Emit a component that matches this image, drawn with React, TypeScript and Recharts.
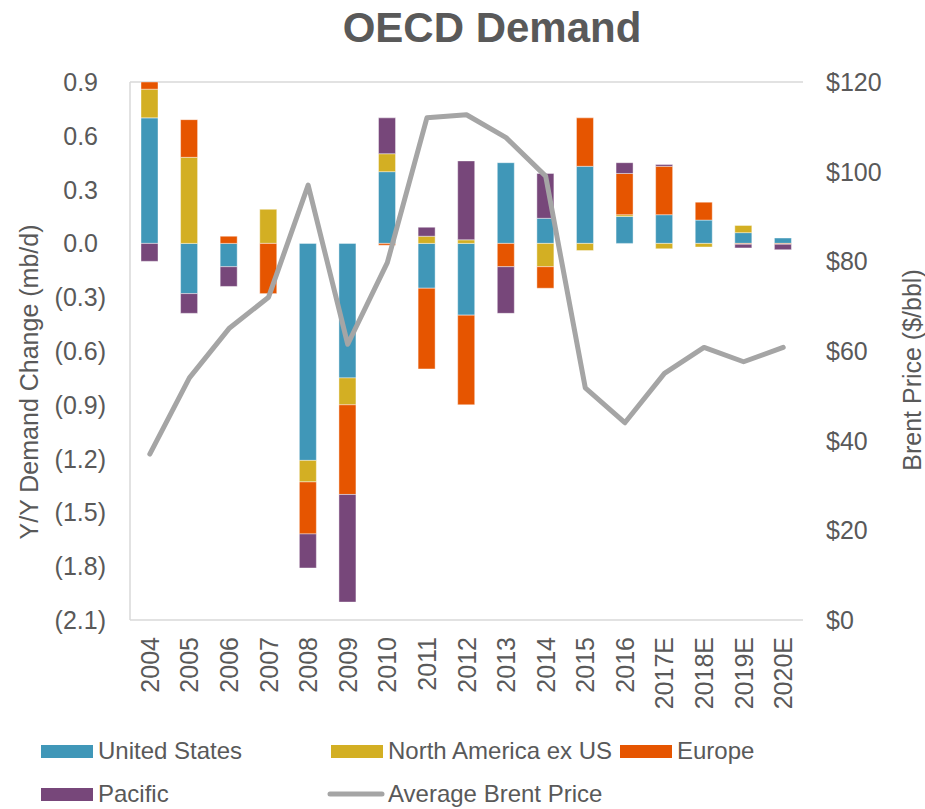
import { ComposedChart, Bar, Line, XAxis, YAxis, CartesianGrid } from 'recharts';

const years = ['2004', '2005', '2006', '2007', '2008', '2009', '2010', '2011', '2012', '2013', '2014', '2015', '2016', '2017E', '2018E', '2019E', '2020E'];
const unitedStates = [0.70, -0.28, -0.13, 0, -1.21, -0.75, 0.40, -0.25, -0.40, 0.45, 0.14, 0.43, 0.15, 0.16, 0.13, 0.06, 0.03];
const northAmericaExUs = [0.16, 0.48, 0, 0.19, -0.12, -0.15, 0.10, 0.04, 0.02, 0, -0.13, -0.04, 0.01, -0.03, -0.02, 0.04, 0];
const europe = [0.04, 0.21, 0.04, -0.28, -0.29, -0.50, -0.01, -0.45, -0.50, -0.13, -0.12, 0.27, 0.23, 0.27, 0.10, -0.005, -0.005];
const pacific = [-0.10, -0.11, -0.11, 0, -0.19, -0.60, 0.20, 0.05, 0.44, -0.26, 0.25, 0, 0.06, 0.01, 0, -0.02, -0.03];
const brentPrice = [37, 54, 65, 72, 97, 61.5, 79.7, 112, 112.7, 107.6, 99, 51.8, 44, 55, 60.8, 57.6, 60.8];

const demandTicks = [-2.1, -1.8, -1.5, -1.2, -0.9, -0.6, -0.3, 0, 0.3, 0.6, 0.9];
const priceTicks = [0, 20, 40, 60, 80, 100, 120];

const TEXT = '#595959';
const FONT = '"Liberation Sans", Arial, sans-serif';

const series = [
  { key: 'us', name: 'United States', color: '#4097B8' },
  { key: 'na', name: 'North America ex US', color: '#D3AF23' },
  { key: 'eu', name: 'Europe', color: '#E65500' },
  { key: 'pac', name: 'Pacific', color: '#77477A' },
];

const data = years.map((year, i) => ({
  year,
  us: unitedStates[i],
  na: northAmericaExUs[i],
  eu: europe[i],
  pac: pacific[i],
  brent: brentPrice[i],
}));

const fmtDemand = (v: number) => {
  const s = Math.abs(v).toFixed(1);
  return v < 0 ? `(${s})` : s;
};

const LeftTick = (props: any) => {
  const { x, y, payload } = props;
  const neg = payload.value < 0;
  return (
    <text x={neg ? x : x - 8} y={y} textAnchor="end" dominantBaseline="central"
      fontSize={25} fill={TEXT} fontFamily={FONT}>
      {fmtDemand(payload.value)}
    </text>
  );
};

const RightTick = (props: any) => {
  const { x, y, payload } = props;
  return (
    <text x={x} y={y} textAnchor="start" dominantBaseline="central"
      fontSize={25} fill={TEXT} fontFamily={FONT}>
      {`$${payload.value}`}
    </text>
  );
};

const YearTick = (props: any) => {
  const { x, y, payload } = props;
  return (
    <text x={x} y={y} transform={`rotate(-90, ${x}, ${y})`} textAnchor="end"
      dominantBaseline="central" fontSize={25} fill={TEXT} fontFamily={FONT}>
      {payload.value}
    </text>
  );
};

export default function App() {
  // legend layout: two rows, three columns like the Excel original
  const legendItems = [
    { ...series[0], col: 0, row: 0, kind: 'bar' },
    { ...series[1], col: 1, row: 0, kind: 'bar' },
    { ...series[2], col: 2, row: 0, kind: 'bar' },
    { ...series[3], col: 0, row: 1, kind: 'bar' },
    { key: 'brent', name: 'Average Brent Price', color: '#A5A5A5', col: 1, row: 1, kind: 'line' },
  ];
  const colX = [41, 331, 620];
  const rowY = [745, 788];

  return (
    <div style={{ position: 'absolute', left: 0, top: 0, width: 925, height: 809, background: '#fff' }}>
      <ComposedChart
        width={925}
        height={720}
        data={data}
        stackOffset="sign"
        margin={{ top: 82, right: 0, bottom: 0, left: 0 }}
      >
        <CartesianGrid vertical={false} stroke="#D9D9D9" strokeWidth={1.5} />
        <XAxis
          dataKey="year"
          height={100}
          interval={0}
          tickLine={false}
          axisLine={false}
          tickSize={0}
          tickMargin={17}
          tick={<YearTick />}
        />
        <YAxis
          yAxisId="left"
          width={130}
          domain={[-2.1, 0.9]}
          ticks={demandTicks}
          interval={0}
          allowDataOverflow
          tickLine={false}
          axisLine={{ stroke: '#D9D9D9', strokeWidth: 1.5 }}
          tickSize={0}
          tickMargin={24}
          tick={<LeftTick />}
        />
        <YAxis
          yAxisId="right"
          orientation="right"
          width={122}
          domain={[0, 120]}
          ticks={priceTicks}
          interval={0}
          tickLine={false}
          axisLine={false}
          tickSize={0}
          tickMargin={23}
          tick={<RightTick />}
        />
        {series.map(s => (
          <Bar
            key={s.key}
            yAxisId="left"
            dataKey={s.key}
            name={s.name}
            stackId="demand"
            fill={s.color}
            stroke="rgba(255,255,255,0.55)"
            strokeWidth={0.75}
            barSize={17}
            isAnimationActive={false}
          />
        ))}
        <Line
          yAxisId="right"
          type="linear"
          dataKey="brent"
          name="Average Brent Price"
          stroke="#A5A5A5"
          strokeWidth={5}
          strokeLinecap="round"
          strokeLinejoin="round"
          dot={false}
          activeDot={false}
          isAnimationActive={false}
        />
      </ComposedChart>

      <svg width={925} height={809} style={{ position: 'absolute', left: 0, top: 0, pointerEvents: 'none' }}>
        <text x={492} y={42} textAnchor="middle" fontSize={42} fontWeight="bold" fill={TEXT} fontFamily={FONT}>
          OECD Demand
        </text>
        <text x={29} y={382} transform="rotate(-90, 29, 382)" textAnchor="middle" dominantBaseline="central"
          fontSize={25} fill={TEXT} fontFamily={FONT}>
          Y/Y Demand Change (mb/d)
        </text>
        <text x={912} y={370} transform="rotate(-90, 912, 370)" textAnchor="middle" dominantBaseline="central"
          fontSize={25} fill={TEXT} fontFamily={FONT}>
          Brent Price ($/bbl)
        </text>
        {legendItems.map(item => {
          const x = colX[item.col];
          const y = rowY[item.row];
          return (
            <g key={item.key}>
              {item.kind === 'bar' ? (
                <rect x={x} y={y} width={52} height={13} fill={item.color} />
              ) : (
                <line x1={x - 1} y1={y + 6} x2={x + 51} y2={y + 6} stroke={item.color} strokeWidth={5} strokeLinecap="round" />
              )}
              <text x={x + 57} y={y + 14} fontSize={24} fill={TEXT} fontFamily={FONT}>
                {item.name}
              </text>
            </g>
          );
        })}
      </svg>
    </div>
  );
}
